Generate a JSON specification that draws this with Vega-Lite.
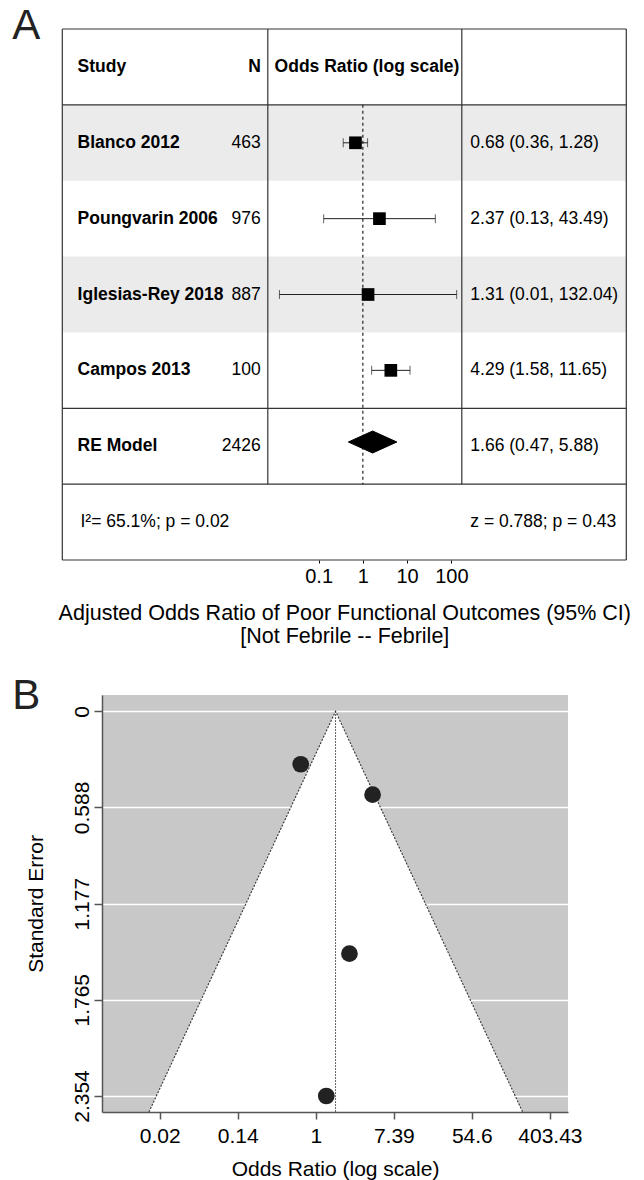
{
  "$schema": "https://vega.github.io/schema/vega-lite/v6.json",
  "background": "white",
  "padding": {"left": 12, "top": 5, "right": 5, "bottom": 5},
  "config": {
    "font": "Liberation Sans",
    "view": {"stroke": null},
    "title": {"fontWeight": "normal", "color": "#222222"}
  },
  "datasets": {
    "studies": [
      {"row": "Blanco 2012", "n": 463, "or": 0.68, "lo": 0.36, "hi": 1.28, "est": "0.68 (0.36, 1.28)", "se": 0.324},
      {"row": "Poungvarin 2006", "n": 976, "or": 2.37, "lo": 0.13, "hi": 43.49, "est": "2.37 (0.13, 43.49)", "se": 1.483},
      {"row": "Iglesias-Rey 2018", "n": 887, "or": 1.31, "lo": 0.013, "hi": 132.04, "est": "1.31 (0.01, 132.04)", "se": 2.354},
      {"row": "Campos 2013", "n": 100, "or": 4.29, "lo": 1.58, "hi": 11.65, "est": "4.29 (1.58, 11.65)", "se": 0.51},
      {"row": "RE Model", "n": 2426, "or": 1.66, "lo": 0.47, "hi": 5.88, "est": "1.66 (0.47, 5.88)"}
    ],
    "diamond": [
      {"or": 0.47, "v": 0, "k": 1},
      {"or": 1.66, "v": 1, "k": 2},
      {"or": 5.88, "v": 0, "k": 3},
      {"or": 1.66, "v": -1, "k": 4}
    ],
    "funnel": [
      {"or": 0.0139, "se": 2.452},
      {"or": 1.66, "se": 0},
      {"or": 200.7, "se": 2.452}
    ]
  },
  "concat": [
    {
      "width": 524.3,
      "height": 531,
      "view": {"stroke": null},
      "title": {"text": "A", "anchor": "start", "frame": "group", "orient": "top", "fontSize": 42, "baseline": "alphabetic", "offset": 0, "dx": -89.7, "dy": 53},
      "resolve": {"scale": {"y": "independent"}},
      "layer": [
        {
          "layer": [
            {
              "data": {"name": "studies"},
              "transform": [{"filter": {"field": "row", "oneOf": ["Blanco 2012", "Iglesias-Rey 2018"]}}],
              "mark": {"type": "rect", "color": "#ebebeb"},
              "encoding": {
                "x": {"datum": 1.602e-7, "type": "quantitative", "scale": {"type": "log", "domain": [1.265e-6, 904000], "nice": false}},
                "x2": {"datum": 904000},
                "y": {"field": "row", "type": "nominal", "axis": null, "scale": {"type": "band", "domain": ["header", "Blanco 2012", "Poungvarin 2006", "Iglesias-Rey 2018", "Campos 2013", "RE Model", "footer"], "paddingInner": 0, "paddingOuter": 0}}
              }
            },
            {
              "data": {"values": [{"row": "header"}, {"row": "Blanco 2012"}, {"row": "RE Model"}, {"row": "footer"}]},
              "mark": {"type": "rule", "color": "#333333", "strokeWidth": 1.2},
              "encoding": {
                "x": {"datum": 1.602e-7, "type": "quantitative", "scale": {"type": "log", "domain": [1.265e-6, 904000], "nice": false}},
                "x2": {"datum": 904000},
                "y": {"field": "row", "type": "nominal", "bandPosition": 0, "axis": null, "scale": {"type": "band", "domain": ["header", "Blanco 2012", "Poungvarin 2006", "Iglesias-Rey 2018", "Campos 2013", "RE Model", "footer"], "paddingInner": 0, "paddingOuter": 0}}
              }
            },
            {
              "data": {"values": [{"row": "footer"}]},
              "mark": {"type": "rule", "color": "#333333", "strokeWidth": 1.2},
              "encoding": {
                "x": {"datum": 1.602e-7, "type": "quantitative", "scale": {"type": "log", "domain": [1.265e-6, 904000], "nice": false}},
                "x2": {"datum": 904000},
                "y": {"field": "row", "type": "nominal", "bandPosition": 1, "axis": null, "scale": {"type": "band", "domain": ["header", "Blanco 2012", "Poungvarin 2006", "Iglesias-Rey 2018", "Campos 2013", "RE Model", "footer"], "paddingInner": 0, "paddingOuter": 0}}
              }
            },
            {
              "data": {"values": [{}]},
              "mark": {"type": "rule", "color": "#333333", "strokeWidth": 1.2},
              "encoding": {
                "x": {"datum": 1.602e-7, "type": "quantitative", "scale": {"type": "log", "domain": [1.265e-6, 904000], "nice": false}},
                "y": {"datum": "header", "type": "nominal", "bandPosition": 0, "axis": null, "scale": {"type": "band", "domain": ["header", "Blanco 2012", "Poungvarin 2006", "Iglesias-Rey 2018", "Campos 2013", "RE Model", "footer"], "paddingInner": 0, "paddingOuter": 0}},
                "y2": {"datum": "footer", "bandPosition": 1}
              }
            },
            {
              "data": {"values": [{}]},
              "mark": {"type": "rule", "color": "#333333", "strokeWidth": 1.2},
              "encoding": {
                "x": {"datum": 904000, "type": "quantitative", "scale": {"type": "log", "domain": [1.265e-6, 904000], "nice": false}},
                "y": {"datum": "header", "type": "nominal", "bandPosition": 0, "axis": null, "scale": {"type": "band", "domain": ["header", "Blanco 2012", "Poungvarin 2006", "Iglesias-Rey 2018", "Campos 2013", "RE Model", "footer"], "paddingInner": 0, "paddingOuter": 0}},
                "y2": {"datum": "footer", "bandPosition": 1}
              }
            },
            {
              "data": {"values": [{}]},
              "mark": {"type": "rule", "color": "#333333", "strokeWidth": 1.2},
              "encoding": {
                "x": {"datum": 0.007094, "type": "quantitative", "scale": {"type": "log", "domain": [1.265e-6, 904000], "nice": false}},
                "y": {"datum": "header", "type": "nominal", "bandPosition": 0, "axis": null, "scale": {"type": "band", "domain": ["header", "Blanco 2012", "Poungvarin 2006", "Iglesias-Rey 2018", "Campos 2013", "RE Model", "footer"], "paddingInner": 0, "paddingOuter": 0}},
                "y2": {"datum": "footer", "bandPosition": 0}
              }
            },
            {
              "data": {"values": [{}]},
              "mark": {"type": "rule", "color": "#333333", "strokeWidth": 1.2},
              "encoding": {
                "x": {"datum": 172.6, "type": "quantitative", "scale": {"type": "log", "domain": [1.265e-6, 904000], "nice": false}},
                "y": {"datum": "header", "type": "nominal", "bandPosition": 0, "axis": null, "scale": {"type": "band", "domain": ["header", "Blanco 2012", "Poungvarin 2006", "Iglesias-Rey 2018", "Campos 2013", "RE Model", "footer"], "paddingInner": 0, "paddingOuter": 0}},
                "y2": {"datum": "footer", "bandPosition": 0}
              }
            },
            {
              "data": {"values": [{}]},
              "mark": {"type": "rule", "color": "#111111", "strokeWidth": 1.1, "strokeDash": [3, 3]},
              "encoding": {
                "x": {"datum": 1, "type": "quantitative", "scale": {"type": "log", "domain": [1.265e-6, 904000], "nice": false}},
                "y": {"datum": "Blanco 2012", "type": "nominal", "bandPosition": 0, "axis": null, "scale": {"type": "band", "domain": ["header", "Blanco 2012", "Poungvarin 2006", "Iglesias-Rey 2018", "Campos 2013", "RE Model", "footer"], "paddingInner": 0, "paddingOuter": 0}},
                "y2": {"datum": "footer", "bandPosition": 0}
              }
            },
            {
              "data": {"name": "studies"},
              "transform": [{"filter": "datum.row !== 'RE Model'"}],
              "mark": {"type": "rule", "color": "#222222", "strokeWidth": 1},
              "encoding": {
                "x": {
                  "field": "lo", "type": "quantitative",
                  "scale": {"type": "log", "domain": [1.265e-6, 904000], "nice": false},
                  "axis": {
                    "values": [0.1, 1, 10, 100], "format": "~g", "domain": false, "grid": false,
                    "ticks": true, "tickSize": 3, "tickColor": "#000000", "tickWidth": 1,
                    "labelFontSize": 20, "labelColor": "#000000", "labelPadding": 3, "labelFlush": false, "labelOverlap": false,
                    "title": ["Adjusted Odds Ratio of Poor Functional Outcomes (95% CI)", "[Not Febrile -- Febrile]"],
                    "titleFontSize": 21.5, "titleFontWeight": "normal", "titleColor": "#000000", "titlePadding": 16, "titleLineHeight": 23,
                    "titleX": 242.3, "titleAlign": "center"
                  }
                },
                "x2": {"field": "hi"},
                "y": {"field": "row", "type": "nominal", "axis": null, "scale": {"type": "band", "domain": ["header", "Blanco 2012", "Poungvarin 2006", "Iglesias-Rey 2018", "Campos 2013", "RE Model", "footer"], "paddingInner": 0, "paddingOuter": 0}}
              }
            },
            {
              "data": {"name": "studies"},
              "transform": [{"filter": "datum.row !== 'RE Model'"}, {"fold": ["lo", "hi"], "as": ["end", "val"]}],
              "mark": {"type": "tick", "color": "#222222", "thickness": 1, "size": 9, "orient": "vertical"},
              "encoding": {
                "x": {"field": "val", "type": "quantitative", "scale": {"type": "log", "domain": [1.265e-6, 904000], "nice": false}},
                "y": {"field": "row", "type": "nominal", "axis": null, "scale": {"type": "band", "domain": ["header", "Blanco 2012", "Poungvarin 2006", "Iglesias-Rey 2018", "Campos 2013", "RE Model", "footer"], "paddingInner": 0, "paddingOuter": 0}}
              }
            },
            {
              "data": {"name": "studies"},
              "transform": [{"filter": "datum.row !== 'RE Model'"}],
              "mark": {"type": "point", "shape": "square", "filled": true, "color": "#000000", "size": 161, "opacity": 1, "strokeWidth": 0},
              "encoding": {
                "x": {"field": "or", "type": "quantitative", "scale": {"type": "log", "domain": [1.265e-6, 904000], "nice": false}},
                "y": {"field": "row", "type": "nominal", "axis": null, "scale": {"type": "band", "domain": ["header", "Blanco 2012", "Poungvarin 2006", "Iglesias-Rey 2018", "Campos 2013", "RE Model", "footer"], "paddingInner": 0, "paddingOuter": 0}}
              }
            },
            {
              "data": {"name": "studies"},
              "mark": {"type": "text", "align": "left", "baseline": "middle", "fontSize": 17.5, "fontWeight": "bold", "color": "#000000"},
              "encoding": {
                "x": {"datum": 3.55e-7, "type": "quantitative", "scale": {"type": "log", "domain": [1.265e-6, 904000], "nice": false}},
                "y": {"field": "row", "type": "nominal", "axis": null, "scale": {"type": "band", "domain": ["header", "Blanco 2012", "Poungvarin 2006", "Iglesias-Rey 2018", "Campos 2013", "RE Model", "footer"], "paddingInner": 0, "paddingOuter": 0}},
                "text": {"field": "row", "type": "nominal"}
              }
            },
            {
              "data": {"name": "studies"},
              "mark": {"type": "text", "align": "right", "baseline": "middle", "fontSize": 17.5, "color": "#000000"},
              "encoding": {
                "x": {"datum": 0.004926, "type": "quantitative", "scale": {"type": "log", "domain": [1.265e-6, 904000], "nice": false}},
                "y": {"field": "row", "type": "nominal", "axis": null, "scale": {"type": "band", "domain": ["header", "Blanco 2012", "Poungvarin 2006", "Iglesias-Rey 2018", "Campos 2013", "RE Model", "footer"], "paddingInner": 0, "paddingOuter": 0}},
                "text": {"field": "n", "type": "nominal"}
              }
            },
            {
              "data": {"name": "studies"},
              "mark": {"type": "text", "align": "left", "baseline": "middle", "fontSize": 17.5, "color": "#000000"},
              "encoding": {
                "x": {"datum": 268.6, "type": "quantitative", "scale": {"type": "log", "domain": [1.265e-6, 904000], "nice": false}},
                "y": {"field": "row", "type": "nominal", "axis": null, "scale": {"type": "band", "domain": ["header", "Blanco 2012", "Poungvarin 2006", "Iglesias-Rey 2018", "Campos 2013", "RE Model", "footer"], "paddingInner": 0, "paddingOuter": 0}},
                "text": {"field": "est", "type": "nominal"}
              }
            },
            {
              "data": {"values": [{}]},
              "mark": {"type": "text", "text": "Study", "align": "left", "baseline": "middle", "fontSize": 17.5, "fontWeight": "bold", "color": "#000000"},
              "encoding": {
                "x": {"datum": 3.55e-7, "type": "quantitative", "scale": {"type": "log", "domain": [1.265e-6, 904000], "nice": false}},
                "y": {"datum": "header", "type": "nominal", "axis": null, "scale": {"type": "band", "domain": ["header", "Blanco 2012", "Poungvarin 2006", "Iglesias-Rey 2018", "Campos 2013", "RE Model", "footer"], "paddingInner": 0, "paddingOuter": 0}}
              }
            },
            {
              "data": {"values": [{}]},
              "mark": {"type": "text", "text": "N", "align": "right", "baseline": "middle", "fontSize": 17.5, "fontWeight": "bold", "color": "#000000"},
              "encoding": {
                "x": {"datum": 0.004926, "type": "quantitative", "scale": {"type": "log", "domain": [1.265e-6, 904000], "nice": false}},
                "y": {"datum": "header", "type": "nominal", "axis": null, "scale": {"type": "band", "domain": ["header", "Blanco 2012", "Poungvarin 2006", "Iglesias-Rey 2018", "Campos 2013", "RE Model", "footer"], "paddingInner": 0, "paddingOuter": 0}}
              }
            },
            {
              "data": {"values": [{}]},
              "mark": {"type": "text", "text": "Odds Ratio (log scale)", "align": "left", "baseline": "middle", "fontSize": 17.5, "fontWeight": "bold", "color": "#000000"},
              "encoding": {
                "x": {"datum": 0.0101, "type": "quantitative", "scale": {"type": "log", "domain": [1.265e-6, 904000], "nice": false}},
                "y": {"datum": "header", "type": "nominal", "axis": null, "scale": {"type": "band", "domain": ["header", "Blanco 2012", "Poungvarin 2006", "Iglesias-Rey 2018", "Campos 2013", "RE Model", "footer"], "paddingInner": 0, "paddingOuter": 0}}
              }
            },
            {
              "data": {"values": [{}]},
              "mark": {"type": "text", "text": "I²= 65.1%; p = 0.02", "align": "left", "baseline": "middle", "fontSize": 17.5, "color": "#000000"},
              "encoding": {
                "x": {"datum": 4.13e-7, "type": "quantitative", "scale": {"type": "log", "domain": [1.265e-6, 904000], "nice": false}},
                "y": {"datum": "footer", "type": "nominal", "axis": null, "scale": {"type": "band", "domain": ["header", "Blanco 2012", "Poungvarin 2006", "Iglesias-Rey 2018", "Campos 2013", "RE Model", "footer"], "paddingInner": 0, "paddingOuter": 0}}
              }
            },
            {
              "data": {"values": [{}]},
              "mark": {"type": "text", "text": "z = 0.788; p = 0.43", "align": "left", "baseline": "middle", "fontSize": 17.5, "color": "#000000"},
              "encoding": {
                "x": {"datum": 268.6, "type": "quantitative", "scale": {"type": "log", "domain": [1.265e-6, 904000], "nice": false}},
                "y": {"datum": "footer", "type": "nominal", "axis": null, "scale": {"type": "band", "domain": ["header", "Blanco 2012", "Poungvarin 2006", "Iglesias-Rey 2018", "Campos 2013", "RE Model", "footer"], "paddingInner": 0, "paddingOuter": 0}}
              }
            }
          ]
        },
        {
          "data": {"name": "diamond"},
          "mark": {"type": "line", "interpolate": "linear-closed", "fill": "#000000", "stroke": "#000000", "strokeWidth": 1},
          "encoding": {
            "x": {"field": "or", "type": "quantitative", "scale": {"type": "log", "domain": [1.265e-6, 904000], "nice": false}},
            "y": {"field": "v", "type": "quantitative", "axis": null, "scale": {"domain": [-1, 1], "range": [424, 402], "nice": false, "zero": false}},
            "order": {"field": "k"}
          }
        }
      ]
    },
    {
      "width": 466,
      "height": 417,
      "view": {"fill": "#c8c8c8", "stroke": null},
      "title": {"text": "B", "anchor": "start", "frame": "group", "orient": "top", "fontSize": 42, "baseline": "alphabetic", "offset": 0, "dx": -89.7, "dy": 56},
      "layer": [
        {
          "data": {"name": "funnel"},
          "mark": {"type": "area", "color": "#ffffff", "opacity": 1},
          "encoding": {
            "x": {"field": "or", "type": "quantitative", "scale": {"type": "log", "base": 2.718281828459045, "domain": [0.00418, 641.2], "nice": false}},
            "y": {"field": "se", "type": "quantitative", "scale": {"domain": [-0.0998, 2.4519], "reverse": true, "nice": false, "zero": false}},
            "y2": {"datum": 2.452}
          }
        },
        {
          "data": {"name": "funnel"},
          "mark": {"type": "line", "color": "#333333", "strokeWidth": 1.1, "strokeDash": [2, 1.5]},
          "encoding": {
            "x": {"field": "or", "type": "quantitative", "scale": {"type": "log", "base": 2.718281828459045, "domain": [0.00418, 641.2], "nice": false}},
            "y": {"field": "se", "type": "quantitative", "scale": {"domain": [-0.0998, 2.4519], "reverse": true, "nice": false, "zero": false}}
          }
        },
        {
          "data": {"values": [{}]},
          "mark": {"type": "rule", "color": "#333333", "strokeWidth": 1, "strokeDash": [1.5, 1.5]},
          "encoding": {
            "x": {"datum": 1.66, "type": "quantitative", "scale": {"type": "log", "base": 2.718281828459045, "domain": [0.00418, 641.2], "nice": false}},
            "y": {"datum": 0, "type": "quantitative", "scale": {"domain": [-0.0998, 2.4519], "reverse": true, "nice": false, "zero": false}},
            "y2": {"datum": 2.452}
          }
        },
        {
          "data": {"name": "studies"},
          "transform": [{"filter": "datum.row !== 'RE Model'"}],
          "mark": {"type": "circle", "color": "#222222", "size": 280, "opacity": 1},
          "encoding": {
            "x": {
              "field": "or", "type": "quantitative",
              "scale": {"type": "log", "base": 2.718281828459045, "domain": [0.00418, 641.2], "nice": false},
              "axis": {
                "values": [0.0183156, 0.1353353, 1, 7.389056, 54.59815, 403.4288], "format": ".2~f",
                "domain": true, "domainColor": "#555555", "domainWidth": 1.5,
                "ticks": true, "tickColor": "#555555", "tickWidth": 1.5, "tickSize": 7,
                "labelFontSize": 21, "labelColor": "#000000", "labelPadding": 6, "labelFlush": false, "labelOverlap": false,
                "grid": false, "zindex": 1,
                "title": "Odds Ratio (log scale)", "titleFontSize": 21, "titleFontWeight": "normal", "titleColor": "#000000", "titlePadding": 12
              }
            },
            "y": {
              "field": "se", "type": "quantitative",
              "scale": {"domain": [-0.0998, 2.4519], "reverse": true, "nice": false, "zero": false},
              "axis": {
                "values": [0, 0.588, 1.177, 1.765, 2.354], "format": ".4~g", "labelAngle": 270,
                "grid": true, "gridColor": "#ffffff", "gridWidth": 1.5,
                "domain": true, "domainColor": "#555555", "domainWidth": 1.5,
                "ticks": true, "tickColor": "#555555", "tickWidth": 1.5, "tickSize": 8,
                "labelFontSize": 21, "labelColor": "#000000", "labelPadding": 2, "labelOverlap": false,
                "title": "Standard Error", "titleFontSize": 21, "titleFontWeight": "normal", "titleColor": "#000000", "titlePadding": 25
              }
            }
          }
        }
      ]
    }
  ],
  "columns": 1,
  "align": "none",
  "spacing": 28
}
